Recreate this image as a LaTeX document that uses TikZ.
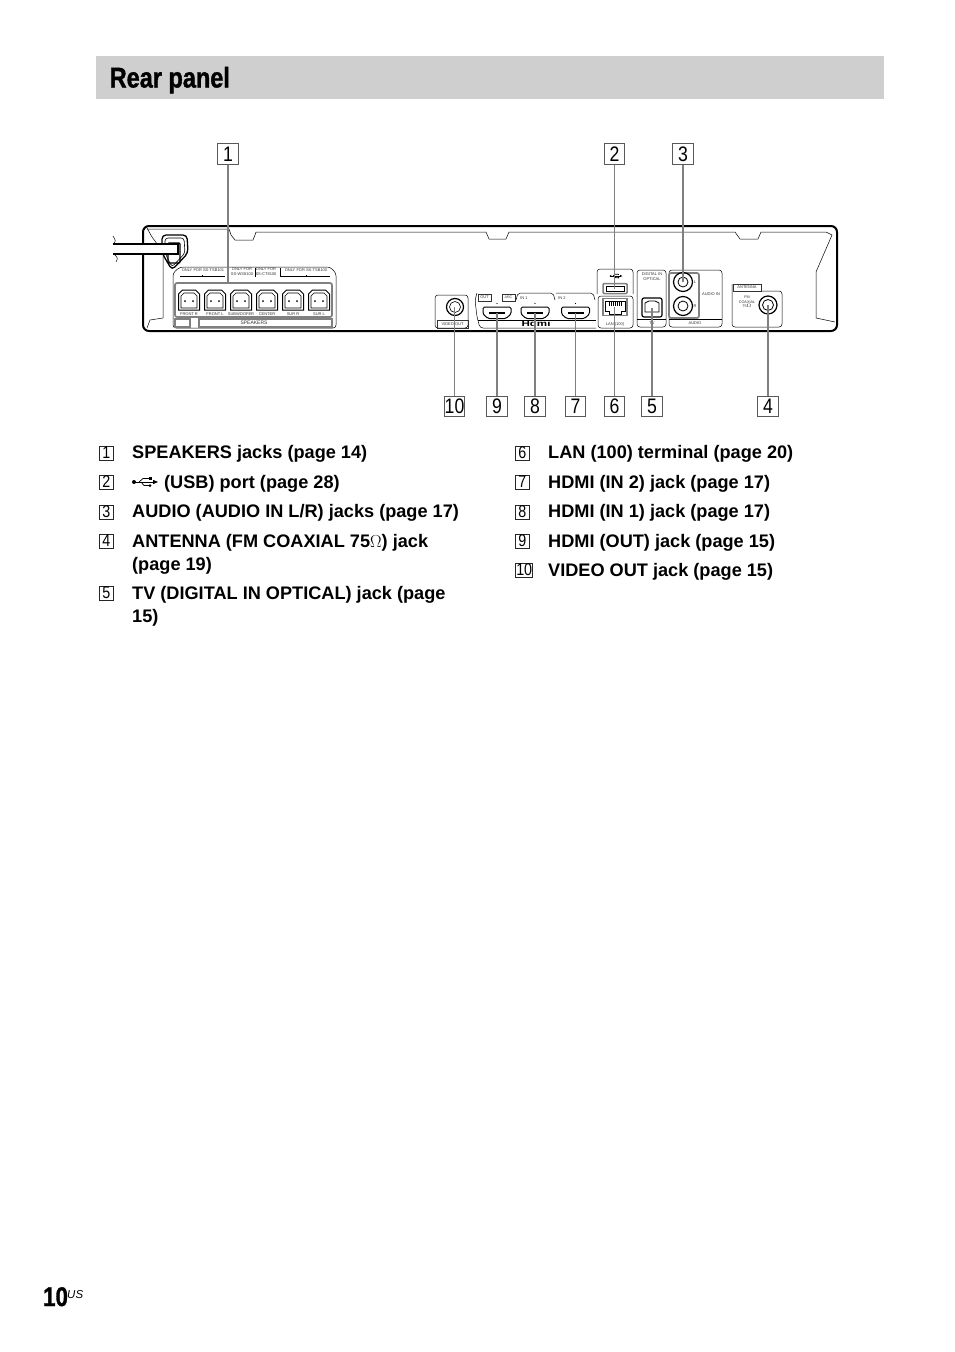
\documentclass[tikz,border=0pt]{standalone}
\usepackage{fontspec}
\setmainfont{Liberation Sans}
\newfontfamily\condfont[FakeStretch=.84]{Liberation Sans}
\newfontfamily\heavyfont[FakeStretch=.825,FakeBold=1.2]{Liberation Sans Bold}
\newfontfamily\widefont[FakeStretch=1.45]{Liberation Sans}
\definecolor{bandgray}{HTML}{CFCFCF}
\definecolor{callgray}{HTML}{808080}
\usetikzlibrary{shapes.misc}
\tikzset{
  callbox/.style={draw=black!65,line width=1.1pt,minimum width=20.5pt,minimum height=20.5pt,inner sep=0pt,font=\fontsize{21}{21}\selectfont\condfont},
  callline/.style={callgray,line width=1.9pt},
  markbox/.style={draw=black!85,anchor=west,line width=.9pt,minimum width=14pt,minimum height=14pt,inner xsep=.8pt,inner ysep=0pt,font=\fontsize{17}{17}\selectfont\condfont},
  itemtext/.style={anchor=base west,inner sep=0pt,align=left,font=\fontsize{18.15}{23}\selectfont\bfseries},
  tinytext/.style={inner sep=0pt,align=center,text=black!80,font=\fontsize{4}{5}\selectfont},
  framelbl/.style={tinytext,draw=black!80,line width=.4pt,minimum height=7.5pt},
  thinline/.style={line width=.5pt},
  panelbox/.style={draw,line width=.5pt,rounded corners=3pt},
  grouprect/.style={draw=callgray,line width=1.7pt,rounded corners=2pt},
  rcajack/.style={draw,circle,line width=1.2pt,minimum size=19pt,inner sep=0pt},
  hdmishape/.pic={
    \draw[line width=1pt,rounded corners=1.5pt] (-14,-5.5) -- (14,-5.5) -- (14,1.5) -- (9,6) -- (-9,6) -- (-14,1.5) -- cycle;
    \fill (-8,-.5) rectangle (8,1.5);
  },
  usbsym/.pic={
    \fill (-11,0) circle (2);
    \draw[line width=.7pt] (-11,0) -- (9,0);
    \fill (13,0) -- (8,-2.2) -- (8,2.2) -- cycle;
    \draw[line width=.7pt] (-6,0) -- (-2,-3.5) -- (4,-3.5);
    \fill (3.5,-5) rectangle (6.5,-2);
    \draw[line width=.7pt] (-4,0) -- (-1,3.5) -- (4,3.5);
    \fill (5,3.5) circle (1.5);
  },
  spkjack/.pic={
    \draw[line width=1pt] (-10.5,-6) -- (-6.5,-10) -- (6.5,-10) -- (10.5,-6) -- (10.5,10) -- (-10.5,10) -- cycle;
    \draw[line width=.6pt] (-8,-4) -- (-5,-7) -- (5,-7) -- (8,-4) -- (8,8) -- (-8,8) -- cycle;
    \fill (-4,1) circle (1);
    \fill (4,1) circle (1);
  }
}
\begin{document}
\begin{tikzpicture}[x=1pt,y=-1pt]
\useasboundingbox (0,0) rectangle (954,1352);
% title band
\fill[bandgray] (96,56) rectangle (884,99);
\node[anchor=base west,inner sep=0pt,font=\fontsize{28.5}{28.5}\selectfont\heavyfont] (title) at (109.5,87.5) {Rear panel};
% chassis
\draw[line width=2pt,rounded corners=6pt] (143,226) rectangle (837,331);
\draw[thinline] (147,229) -- (229,229) -- (231,235) -- (235,240) -- (253,240) -- (255,235) -- (256,232) -- (486,232) -- (489,239) -- (506,239) -- (509,232) -- (735,232) -- (740,239) -- (758,239) -- (761,232) -- (826,232) -- (832,235) -- (816,272) -- (816,318) -- (835,322);
\draw[thinline] (147,228) -- (152,237) -- (163,252) -- (163,318) -- (150,320) -- (147,328);
% power cord
\draw[line width=1.3pt,rounded corners=4pt,fill=white] (162,235) -- (187,235) -- (188,253) -- (172,270) -- (162,253) -- cycle;
\draw[line width=.6pt,rounded corners=3pt] (165,238) -- (184,238) -- (185,253) -- (172,267) -- (165,253) -- cycle;
\draw[line width=1.4pt,rounded corners=1pt] (168,243) rectangle (180,263);
\fill[white] (113,244) rectangle (178,254);
\draw[line width=1.6pt] (113,244) -- (178,244) -- (178,254) -- (113,254);
\draw[line width=.5pt] (113,236) .. controls (116,241) .. (113,244);
\draw[line width=.5pt] (114,254) .. controls (118,258) .. (116,262);
% speaker block
\draw[panelbox] (173,273) -- (180,267) -- (330,267) -- (336,273) -- (336,328) -- (173,328) -- cycle;
\node[tinytext] (lbl-a) at (203,270) {ONLY FOR SS-TSB101};
\node[tinytext] (lbl-b) at (242,272) {ONLY FOR\\SS-WS8100};
\node[tinytext] (lbl-c) at (266,272) {ONLY FOR\\SS-CT8100};
\node[tinytext] (lbl-d) at (306,270) {ONLY FOR SS-TSB100};
\draw[thinline] (180,276) -- (225,276);
\draw[thinline] (202,276) -- (202,274.5);
\draw[thinline] (280,276) -- (330,276);
\draw[thinline] (306,276) -- (306,274.5);
\draw[thinline] (228,268) -- (228,277);
\draw[thinline] (255,268) -- (255,277);
\draw[thinline] (280,268) -- (280,277);
\node[grouprect,minimum width=157pt,minimum height=34pt,inner sep=0pt] (spkband) at (253.5,300) {};
\foreach \x/\lab [count=\i] in {189/FRONT R,215/FRONT L,241/SUBWOOFER,267/CENTER,293/SUR R,319/SUR L}{
  \pic at (\x,300) {spkjack};
  \node[tinytext] (spk\i) at (\x,314) {\lab};
}
\draw[callgray,line width=1.3pt] (175,319) rectangle (190,327);
\draw[callgray,line width=1.3pt] (199,319) rectangle (332,327);
\node[tinytext,font=\fontsize{5}{6}\selectfont] (spkname) at (254,323) {SPEAKERS};
% video out
\draw[panelbox] (435,295) rectangle (468,328);
\node[rcajack,minimum size=17pt] (videojack) at (455,307) {};
\draw[line width=.6pt] (videojack.center) circle (5.5);
\node[framelbl,minimum width=31pt] (videolbl) at (452.5,324) {VIDEO OUT};
% hdmi block
\draw[thinline,rounded corners=3pt] (477,293) -- (475,300) -- (477,317) -- (480,328) -- (596,328);
\draw[line width=.8pt] (478,320) -- (596,320);
\draw[thinline,rounded corners=2pt] (516,300) -- (518,293) -- (553,293) -- (555,300);
\draw[thinline,rounded corners=2pt] (556,293) -- (593,293) -- (595,300);
\node[framelbl,minimum width=13pt] (outlbl) at (484.5,297.5) {OUT};
\node[framelbl,minimum width=13pt,font=\fontsize{3.6}{4}\selectfont] (arclbl) at (508.5,297.5) {ARC};
\node[tinytext] (in1lbl) at (524,298) {IN 1};
\node[tinytext] (in2lbl) at (562,298) {IN 2};
\foreach \x/\nm in {497/hdmiout,535/hdmione,575.5/hdmitwo}{
  \fill (\x,303.5) circle (.7);
  \pic at (\x,312.5) {hdmishape};
  \coordinate (\nm) at (\x,312.5);
}
\node[inner sep=0pt,font=\fontsize{8}{8}\selectfont\widefont\bfseries] (hdmilogo) at (536,324) {Hdmi};
% usb and lan
\draw[panelbox] (597,294) -- (597,269) -- (633,269) -- (633,294);
\pic[scale=.5] at (616,276) {usbsym};
\node[draw=callgray,line width=1.5pt,minimum width=24pt,minimum height=10pt,inner sep=0pt,rounded corners=1pt] (usbport) at (615,288.5) {};
\draw[line width=.8pt] (606,286) rectangle (624,291);
\draw[panelbox] (598,296) rectangle (633,328);
\node[draw=callgray,line width=1.5pt,minimum width=24pt,minimum height=17pt,inner sep=0pt] (lanport) at (615,307) {};
\draw[line width=1pt] (605,301) -- (625,301) -- (625,311) -- (621,311) -- (621,314) -- (609,314) -- (609,311) -- (605,311) -- cycle;
\foreach \x in {609,611,...,621}{
  \draw[line width=.5pt] (\x,302) -- (\x,306);
}
\node[tinytext] (lanlbl) at (615,324) {LAN (100)};
% optical
\draw[panelbox] (637,270) rectangle (666,327);
\draw[thinline] (637,319) -- (666,319);
\node[tinytext] (optlbl) at (652,277) {DIGITAL IN\\OPTICAL};
\node[draw,line width=1.2pt,minimum width=20pt,minimum height=19pt,inner sep=0pt,rounded corners=2pt] (optjack) at (652,307.5) {};
\draw[line width=.8pt] (645,303) -- (649,301) -- (655,301) -- (659,303) -- (659,312) -- (645,312) -- cycle;
\node[tinytext] (tvlbl) at (652,323.5) {TV};
% audio
\draw[panelbox] (669,270) rectangle (722,327);
\draw[thinline] (669,319) -- (722,319);
\draw[grouprect] (669,273) rectangle (699,318);
\node[rcajack] (audiol) at (683,282) {};
\draw[line width=.8pt] (audiol.center) circle (5);
\node[rcajack] (audior) at (683,306) {};
\draw[line width=.8pt] (audior.center) circle (5);
\node[tinytext] (llbl) at (695,282) {L};
\node[tinytext] (rlbl) at (695,306) {R};
\node[tinytext] (audinlbl) at (711,294) {AUDIO IN};
\node[tinytext] (audlbl) at (695,323.5) {AUDIO};
% antenna
\draw[panelbox] (732,284) -- (732,327) -- (782,327) -- (782,291) -- (761,291);
\node[framelbl,minimum width=28pt] (antlbl) at (747,287.5) {ANTENNA};
\node[tinytext,font=\fontsize{3.8}{4.6}\selectfont] (fmlbl) at (747,302) {FM\\COAXIAL\\75$\Omega$};
\node[rcajack,minimum size=18pt] (antjack) at (768,305) {};
\draw[line width=.8pt] (antjack.center) circle (5.5);
% callouts
\foreach \nm/\x/\y/\txt in {c1/228/154/1,c2/614.5/154/2,c3/683/154/3,c4/768/406.5/4,c5/652/406.5/5,c6/614.5/406.5/6,c7/575.5/406.5/7,c8/535/406.5/8,c9/497/406.5/9,c10/454.5/406.5/10}{
  \node[callbox] (\nm) at (\x,\y) {\txt};
}
\draw[callline] (c1) -- (c1 |- spkband.north);
\draw[callline] (c2) -- (c2 |- usbport.center);
\draw[callline] (c3) -- (c3 |- audiol.center);
\draw[callline] (c4) -- (c4 |- antjack.center);
\draw[callline] (c5) -- (c5 |- optjack.center);
\draw[callline] (c6) -- (c6 |- lanport.center);
\draw[callline] (c7) -- (c7 |- hdmitwo);
\draw[callline] (c8) -- (c8 |- hdmione);
\draw[callline] (c9) -- (c9 |- hdmiout);
\draw[callline] (c10) -- (c10 |- videojack.center);
% list of items
\foreach \nm/\y/\base/\txt in {1/453/458/SPEAKERS jacks (page 14),3/512/517/{AUDIO (AUDIO IN L/R) jacks (page 17)},4/541/570/{ANTENNA (FM COAXIAL 75{\fontseries{m}\selectfont$\Omega$}) jack\\(page 19)},5/593/622/{TV (DIGITAL IN OPTICAL) jack (page\\15)}}{
  \node[markbox] (m\nm) at (99,\y) {\nm};
  \node[itemtext] (t\nm) at (132,\base) {\txt};
}
\node[markbox] (m2) at (99,482) {2};
\pic at (145,482) {usbsym};
\node[itemtext] (t2) at (164,488) {(USB) port (page 28)};
\foreach \nm/\y/\base/\txt in {6/453/458/LAN (100) terminal (page 20),7/482/488/HDMI (IN 2) jack (page 17),8/512/517/HDMI (IN 1) jack (page 17),9/541/547/HDMI (OUT) jack (page 15),10/570/576/VIDEO OUT jack (page 15)}{
  \node[markbox] (m\nm) at (515,\y) {\nm};
  \node[itemtext] (t\nm) at (548,\base) {\txt};
}
% page number
\node[anchor=base west,inner sep=0pt,font=\fontsize{27}{27}\selectfont\heavyfont] (pagenum) at (43,1306) {10};
\node[anchor=base west,inner sep=0pt,font=\fontsize{11.5}{12}\selectfont\itshape] (pagesup) at (67,1298) {US};
\end{tikzpicture}
\end{document}
